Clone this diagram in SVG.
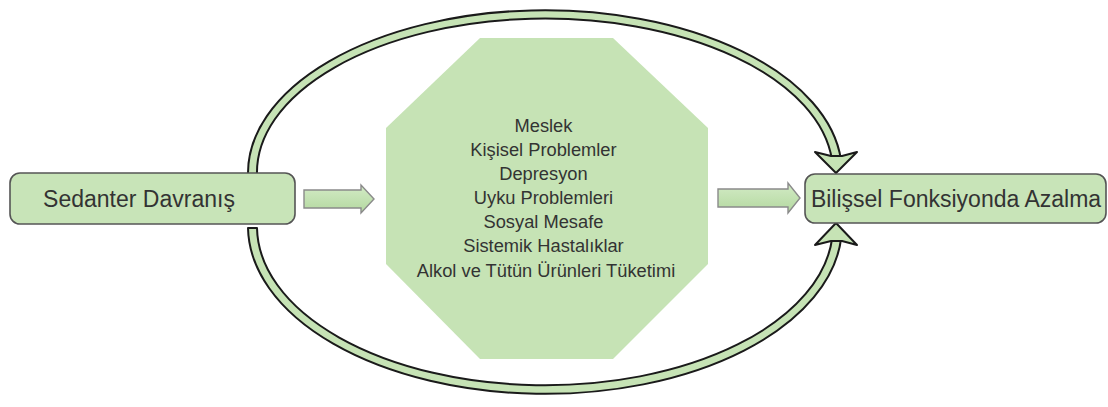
<svg xmlns="http://www.w3.org/2000/svg" width="1108" height="407" viewBox="0 0 1108 407">
<defs>
<linearGradient id="blk" x1="0" y1="0" x2="0" y2="1">
<stop offset="0" stop-color="#d3ebc6"/>
<stop offset="1" stop-color="#b3d89f"/>
</linearGradient>
<style>
.box{fill:#c8e4b8;stroke:#555;stroke-width:1.6}
.lbl{font-family:"Liberation Sans",Arial,sans-serif;fill:#333;text-anchor:middle}
.band{fill:#c6e3b5;stroke:#1a1a1a;stroke-width:2;stroke-linejoin:round}
.blk{fill:url(#blk);stroke:#8a8a8a;stroke-width:1.4}
</style>
</defs>
<rect width="1108" height="407" fill="#fff"/>
<g id="connectors">
<path class="band" d="M 248 175 A 297 163 0 0 1 841 160 L 832 160 A 288 154 0 0 0 257 175 Z"/>
<polygon class="band" points="815,152 836,173 857,152 842,156 831,156"/>
<path class="band" d="M 248 228 A 297 168 0 0 0 841.2 238 L 832.2 238 A 288 159 0 0 1 257 228 Z"/>
<polygon class="band" points="815,245 836,223 857,245 842,241 831,241"/>
<polygon class="blk" points="304,190 361,190 361,185 374,199 361,213 361,208 304,208"/>
<polygon class="blk" points="718,189 788,189 788,183 800,198 788,213 788,207 718,207"/>
</g>
<g id="node-sedanter">
<rect class="box" x="10" y="173" width="285" height="51" rx="10"/>
<text class="lbl" x="139" y="207" font-size="23">Sedanter Davranış</text>
</g>
<g id="node-factors">
<polygon points="480,38 613,38 708,128 708,264 613,359 480,359 386,264 386,128" fill="#c6e3b5"/>
<text class="lbl" font-size="18.3">
<tspan x="546" y="132">Meslek</tspan>
<tspan x="546" y="156">Kişisel Problemler</tspan>
<tspan x="546" y="180">Depresyon</tspan>
<tspan x="546" y="204">Uyku Problemleri</tspan>
<tspan x="546" y="228">Sosyal Mesafe</tspan>
<tspan x="546" y="252">Sistemik Hastalıklar</tspan>
<tspan x="546" y="277">Alkol ve Tütün Ürünleri Tüketimi</tspan>
</text>
</g>
<g id="node-bilissel">
<rect class="box" x="805" y="174" width="301" height="49" rx="10"/>
<text class="lbl" x="956" y="207" font-size="23">Bilişsel Fonksiyonda Azalma</text>
</g>
</svg>
